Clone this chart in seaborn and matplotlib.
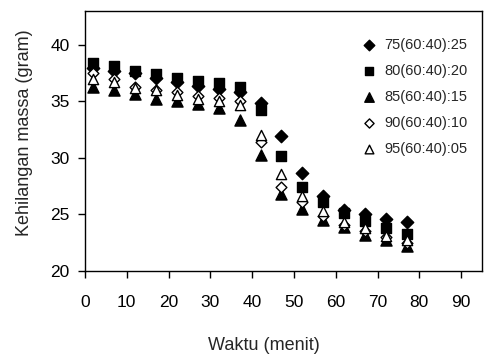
import matplotlib
matplotlib.use("Agg")
import matplotlib.pyplot as plt
import seaborn as sns
import pandas as pd

# waktu (menit)
waktu = [2, 7, 12, 17, 22, 27, 32, 37, 42, 47, 52, 57, 62, 67, 72, 77]

# kehilangan massa (gram) tiap perlakuan
m75 = [38.0, 37.7, 37.5, 37.1, 36.7, 36.4, 36.1, 35.8, 34.9, 31.9, 28.7, 26.6, 25.4, 25.0, 24.6, 24.3]
m80 = [38.4, 38.1, 37.7, 37.4, 37.1, 36.8, 36.6, 36.3, 34.2, 30.2, 27.4, 26.1, 25.1, 24.4, 23.8, 23.3]
m85 = [36.3, 36.0, 35.7, 35.2, 35.0, 34.8, 34.4, 33.4, 30.3, 26.8, 25.5, 24.5, 23.9, 23.2, 22.7, 22.2]
m90 = [37.5, 37.0, 36.3, 36.0, 35.8, 35.5, 35.3, 35.0, 31.4, 27.4, 26.1, 24.9, 24.1, 23.5, 23.0, 22.5]
m95 = [37.0, 36.7, 36.2, 36.0, 35.6, 35.2, 35.0, 34.7, 32.0, 28.6, 26.6, 25.3, 24.3, 23.8, 23.1, 22.7]

labels = ["75(60:40):25", "80(60:40):20", "85(60:40):15", "90(60:40):10", "95(60:40):05"]
series = [m75, m80, m85, m90, m95]
markers = ["D", "s", "^", "D", "^"]
sizes = [40, 58, 64, 30, 54]
fills = ["black", "black", "black", "white", "white"]

sns.set_style("ticks")
plt.rcParams["font.family"] = ["Liberation Sans", "DejaVu Sans"]

fig = plt.figure(figsize=(4.84, 3.56), dpi=100)
ax = fig.add_axes([0.1756, 0.2388, 0.8203, 0.7303])

for lab, y, mk, sz, fc in zip(labels, series, markers, sizes, fills):
    df = pd.DataFrame({"waktu": waktu, "massa": y})
    sns.scatterplot(data=df, x="waktu", y="massa", marker=mk, s=sz,
                    facecolor=fc, edgecolor="black", linewidth=1.0,
                    label=lab, ax=ax, zorder=3)

ax.set_xlim(0, 95)
ax.set_ylim(20, 43)
ax.set_xticks(range(0, 91, 10))
ax.set_yticks(range(20, 41, 5))
for s in ax.spines.values():
    s.set_visible(True)
    s.set_color("black")
    s.set_linewidth(1.0)
ax.tick_params(axis="both", direction="out", length=5, width=1, colors="black",
               labelsize=12.5)
ax.tick_params(axis="x", pad=12)
ax.tick_params(axis="y", pad=6)

ax.set_xlabel("Waktu (menit)", fontsize=13)
ax.set_ylabel("Kehilangan massa (gram)", fontsize=13)
ax.xaxis.set_label_coords((264 - 85) / 397, -0.252)
ax.yaxis.set_label_coords(-0.132, (271 - 133) / 260)

leg = ax.legend(loc="upper left", bbox_to_anchor=(0.665, 0.92), frameon=False,
                fontsize=10.5, handletextpad=0.05, labelspacing=0.83,
                borderaxespad=0, markerscale=0.85)

fig.savefig("out.png", dpi=100)
